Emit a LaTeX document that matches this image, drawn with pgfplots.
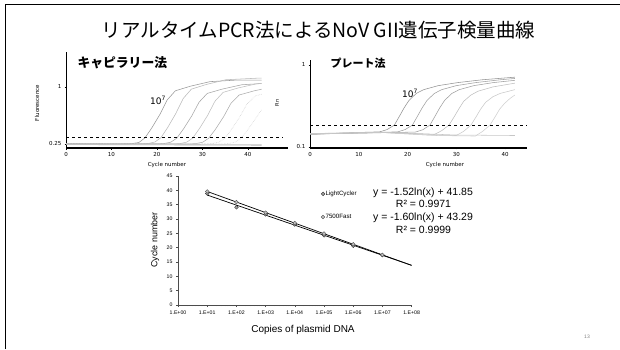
\documentclass[border=0pt]{standalone}
\usepackage{fontspec}
\setmainfont{DejaVu Sans}
\newfontfamily\cjk{Noto Sans CJK JP}
\newfontfamily\arial{Liberation Sans}
\newfontfamily\verd{DejaVu Sans}
\usepackage{pgfplots}
\pgfplotsset{compat=1.18}

\pgfplotsset{
  qpcr/.style={
    scale only axis,
    axis x line=bottom, axis y line=left,
    axis line style={-, black, line width=0.5pt},
    x axis line style={line width=1.3pt},
    tick align=outside, major tick length=1.5pt,
    tick style={black, line width=0.4pt},
    tick label style={font=\verd\fontsize{5.5}{6}\selectfont, text=black},
    /pgf/number format/assume math mode=true,
    xtick={0,10,20,30,40},
    xticklabel style={yshift=0.5pt},
    yticklabel style={xshift=0.5pt},
    clip=true,
  },
  amp/.style={line width=0.55pt, no marks},
}

\begin{document}
\begin{tikzpicture}[x=1pt,y=1pt]
\path[use as bounding box] (0,0) rectangle (620,349);

% slide frame
\draw[line width=1.2pt, black] (5.5,0) -- (5.5,344.5) -- (620,344.5);

% title
\node[font=\cjk\fontsize{19.5}{22}\selectfont, anchor=center] at (318.5,319) {リアルタイムPCR法によるNoV GII遺伝子検量曲線};

% ---------------- capillary method (LightCycler) ----------------
\begin{axis}[qpcr,
  at={(66pt,201pt)}, anchor=south west,
  width=222pt, height=96pt,
  xmin=0, xmax=48.8,
  ymin=0.197, ymax=1.46,
  ytick={0.25,1},
]
\addplot[amp, gray!80] coordinates {(0,0.255)(10,0.248)(14,0.25)(16.05,0.27)(17.35,0.33)(18.85,0.46)(20.65,0.64)(22.25,0.83)(24.05,0.95)(27.35,1.01)(31.65,1.07)(37.35,1.09)(43,1.09)};
\addplot[amp, gray!55] coordinates {(0,0.25)(13.85,0.25)(17.85,0.253)(19.55,0.276)(20.85,0.332)(22.35,0.466)(24.15,0.652)(25.75,0.847)(27.55,0.971)(30.85,1.033)(35.15,1.095)(41.85,1.115)(43,1.117)};
\addplot[amp, gray!70] coordinates {(0,0.25)(17.35,0.25)(21.35,0.253)(23.05,0.274)(24.35,0.326)(25.85,0.45)(27.65,0.62)(29.25,0.80)(31.05,0.915)(34.35,0.972)(38.65,1.029)(43,1.045)};
\addplot[amp, gray!50] coordinates {(0,0.25)(20.85,0.25)(24.85,0.253)(26.55,0.274)(27.85,0.328)(29.35,0.454)(31.15,0.628)(32.75,0.813)(34.55,0.929)(37.85,0.987)(42.15,1.045)(43,1.047)};
\addplot[amp, gray!65] coordinates {(0,0.25)(24.35,0.25)(28.35,0.253)(30.05,0.273)(31.35,0.324)(32.85,0.443)(34.65,0.609)(36.25,0.784)(38.05,0.894)(41.35,0.949)(43,0.97)};
\addplot[amp, gray!40, densely dotted] coordinates {(0,0.25)(27.85,0.25)(31.85,0.253)(33.55,0.272)(34.85,0.322)(36.35,0.439)(38.15,0.601)(39.75,0.772)(41.55,0.88)(43,0.905)};
\addplot[amp, gray!35, densely dotted] coordinates {(0,0.25)(31.35,0.25)(35.35,0.253)(37.05,0.271)(38.35,0.318)(39.85,0.429)(41.65,0.582)(43,0.70)};
% no-template controls
\addplot[amp, gray!60] coordinates {(0,0.242)(15,0.238)(30,0.236)(43,0.233)};
\addplot[amp, gray!45] coordinates {(0,0.247)(20,0.244)(43,0.241)};
% threshold
\addplot[black, dashed, line width=0.5pt] coordinates {(0,0.34)(47.5,0.34)};
\end{axis}

% ---------------- plate method (7500 Fast) ----------------
\begin{axis}[qpcr,
  at={(310pt,201pt)}, anchor=south west,
  width=217pt, height=88pt,
  xmin=0, xmax=44.5,
  ymode=log, ymin=0.0972, ymax=1.15,
  ytick={0.1,1}, yticklabels={0.1,1},
  yminorticks=false,
]
\addplot[amp, gray!85] coordinates {(0,0.143)(9.3,0.15)(14.3,0.153)(15.8,0.163)(17.3,0.185)(18.3,0.235)(19.3,0.30)(20.3,0.37)(21.8,0.45)(23.3,0.50)(26.3,0.56)(30.3,0.61)(35.3,0.66)(42,0.71)};
\addplot[amp, gray!75] coordinates {(0,0.143)(13,0.15)(18,0.153)(19.5,0.163)(21,0.185)(22,0.235)(23,0.30)(24,0.37)(25.5,0.45)(27,0.50)(30,0.56)(34,0.61)(39,0.66)(42,0.685)};
\addplot[amp, gray!75] coordinates {(0,0.144)(16.6,0.15)(21.6,0.152)(23.1,0.162)(24.6,0.185)(25.6,0.235)(26.6,0.30)(27.6,0.37)(29.1,0.45)(30.6,0.50)(33.6,0.56)(37.6,0.61)(42,0.65)};
\addplot[amp, gray!50] coordinates {(0,0.145)(15,0.15)(22,0.145)(25.5,0.142)(27,0.158)(28.5,0.185)(29.5,0.23)(30.5,0.29)(31.5,0.36)(33,0.43)(34.5,0.48)(37.5,0.54)(42,0.6)};
\addplot[amp, gray!42] coordinates {(0,0.145)(15,0.15)(24,0.14)(30,0.138)(31.5,0.155)(33,0.185)(34,0.23)(35,0.29)(36,0.35)(37.5,0.41)(39,0.45)(42,0.5)};
\addplot[amp, gray!38] coordinates {(0,0.146)(15,0.15)(26,0.138)(33.9,0.136)(35.4,0.155)(36.9,0.185)(37.9,0.23)(38.9,0.29)(39.9,0.34)(41,0.39)(42,0.43)};
\addplot[amp, gray!45] coordinates {(0,0.146)(15,0.151)(30,0.14)(42,0.138)};
% threshold
\addplot[black, dashed, line width=0.5pt] coordinates {(0,0.185)(44.5,0.185)};
\end{axis}

% labels around the amplification plots
\node[font=\cjk\bfseries\fontsize{12.8}{14}\selectfont, anchor=west] at (74,286) {キャピラリー法};
\node[font=\cjk\bfseries\fontsize{11}{13}\selectfont, anchor=west] at (327,286) {プレート法};
\node[font=\verd\fontsize{9}{10}\selectfont] at (158,249) {10\textsuperscript{7}};
\node[font=\verd\fontsize{9}{10}\selectfont] at (410,256) {10\textsuperscript{7}};
\node[font=\verd\fontsize{5.5}{6}\selectfont, rotate=90] at (37,246) {Fluorescence};
\node[font=\verd\fontsize{5}{6}\selectfont, rotate=90] at (277,246) {Rn};
\node[font=\verd\fontsize{5.5}{6}\selectfont] at (167,184) {Cycle number};
\node[font=\verd\fontsize{5.5}{6}\selectfont] at (445,184) {Cycle number};

% ---------------- standard curves ----------------
\begin{axis}[
  scale only axis,
  at={(178pt,44pt)}, anchor=south west,
  width=233.6pt, height=129pt,
  xmode=log, xmin=1, xmax=1e8,
  ymin=0, ymax=45,
  axis x line=bottom, axis y line=left,
  axis line style={-, gray!60!black, line width=0.5pt},
  tick align=outside, major tick length=2pt, minor tick length=1pt,
  tick style={gray!60!black, line width=0.4pt},
  xtick={1,10,100,1000,10000,100000,1000000,10000000,100000000},
  xticklabels={1.E+00,1.E+01,1.E+02,1.E+03,1.E+04,1.E+05,1.E+06,1.E+07,1.E+08},
  ytick={0,5,...,45},
  tick label style={font=\arial\fontsize{5.2}{6}\selectfont, text=black},
  /pgf/number format/assume math mode=true,
  legend style={at={(0.612,0.891)}, anchor=north west, draw=none, fill=none,
    font=\arial\fontsize{6.2}{7}\selectfont, row sep=16pt, inner sep=0pt,
    nodes={inner sep=0.6pt}},
  legend cell align=left,
  legend image code/.code={\draw[#1] plot coordinates {(0.05cm,0cm)};},
  clip=false,
]
% trendlines
\addplot[black, line width=0.7pt, forget plot] coordinates {(10,38.35)(100000000,13.85)};
\addplot[black, line width=0.7pt, forget plot] coordinates {(10,39.61)(100000000,13.82)};
% measured Ct values
\addplot[only marks, mark=*, mark size=1.9pt, draw=gray!30!black, fill=gray!75, line width=0.35pt]
  coordinates {(10,38.9)(100,34.1)(1000,31.6)(10000,28.1)(100000,24.3)(1000000,20.7)(10000000,17.4)};
\addlegendentry{LightCycler}
\addplot[only marks, mark=*, mark size=1.9pt, draw=gray!60!black, fill=gray!50, line width=0.35pt]
  coordinates {(10,39.6)(100,35.9)(1000,32.2)(10000,28.6)(100000,24.9)(1000000,21.2)(10000000,17.5)};
\addlegendentry{7500Fast}
\end{axis}

\node[font=\arial\fontsize{10.5}{12}\selectfont] at (423,156) {y = -1.52ln(x) + 41.85};
\node[font=\arial\fontsize{10.5}{12}\selectfont] at (423.5,145) {R² = 0.9971};
\node[font=\arial\fontsize{10.5}{12}\selectfont] at (423,131) {y = -1.60ln(x) + 43.29};
\node[font=\arial\fontsize{10.5}{12}\selectfont] at (423.5,119) {R² = 0.9999};
\node[font=\arial\fontsize{8.9}{10}\selectfont, rotate=90] at (155,109) {Cycle number};
\node[font=\arial\fontsize{10}{12}\selectfont] at (303,19) {Copies of plasmid DNA};

% page number
\node[font=\arial\fontsize{5}{6}\selectfont, text=gray] at (587,12) {13};
\end{tikzpicture}
\end{document}
